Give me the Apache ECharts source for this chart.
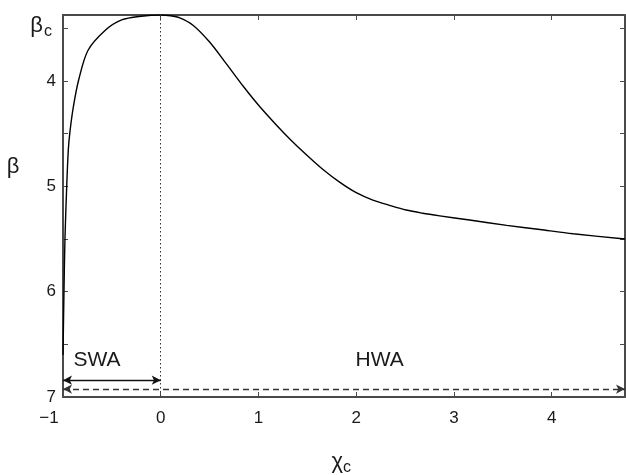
<!DOCTYPE html>
<html>
<head>
<meta charset="utf-8">
<script src="https://cdn.jsdelivr.net/npm/echarts@6/dist/echarts.min.js"></script>
<style>
  html, body { margin: 0; padding: 0; background: #fff; }
  #chart { width: 626px; height: 475px; }
</style>
</head>
<body>
<div id="chart"></div>
<script>
// Critical inverse temperature curve beta(chi_c)
const chiValues = [-1, -0.99, -0.98, -0.962, -0.946, -0.93, -0.895, -0.84, -0.745, -0.57, -0.4, -0.2, 0,
  0.1, 0.195, 0.33, 0.5, 0.674, 0.844, 1.01, 1.185, 1.32, 1.49, 1.66, 1.83, 2.0, 2.17, 2.34, 2.51, 2.68,
  2.855, 3.16, 3.54, 3.88, 4.22, 4.75];
const betaValues = [6.6, 6.0, 5.5, 5.0, 4.66, 4.49, 4.25, 3.99, 3.71, 3.52, 3.42, 3.385, 3.373,
  3.38, 3.40, 3.47, 3.63, 3.84, 4.05, 4.24, 4.42, 4.55, 4.70, 4.84, 4.96, 5.06, 5.13, 5.18, 5.225, 5.255,
  5.28, 5.32, 5.37, 5.41, 5.45, 5.50];

const betaC = 3.373;
const xTicks = { min: -1, max: 4.75, interval: 1 };
const yTickValues = [3.5, 4, 4.5, 5, 5.5, 6, 6.5, 7];
const yLabelValues = [4, 5, 6, 7];

// Regime annotations: strong (SWA) and hard (HWA) ranges
const swaRange = [-1, 0];
const swaArrowBeta = 6.84;
const hwaRange = [-1, 4.75];
const hwaArrowBeta = 6.925;
const regionLabels = [
  { text: 'SWA', chi: -0.652, beta: 6.65 },
  { text: 'HWA', chi: 2.24, beta: 6.65 }
];

const FONT = '"Liberation Sans", Arial, Helvetica, sans-serif';
const AXIS_COLOR = '#4a4a4a';
const TEXT_COLOR = '#1a1a1a';

const chart = echarts.init(document.getElementById('chart'));

const curve = chiValues.map((c, i) => [c, betaValues[i]]);

function xAxisCfg(pos, showLabels) {
  return {
    type: 'value',
    position: pos,
    min: xTicks.min,
    max: xTicks.max,
    interval: xTicks.interval,
    axisLine: { show: true, onZero: false, lineStyle: { color: AXIS_COLOR, width: 2 } },
    axisTick: { show: true, inside: true, length: 5, lineStyle: { color: AXIS_COLOR, width: 1 } },
    axisLabel: {
      show: showLabels,
      margin: 13,
      fontFamily: FONT,
      fontSize: 17,
      color: TEXT_COLOR,
      showMaxLabel: false,
      formatter: function (v) {
        if (v < 0) return '{m|\u2212' + Math.abs(v) + '}';
        return String(v);
      },
      rich: { m: { fontFamily: FONT, fontSize: 17, color: TEXT_COLOR, padding: [0, 28, 0, 0] } }
    },
    splitLine: { show: false }
  };
}

function yAxisCfg(pos, showLabels) {
  return {
    type: 'value',
    position: pos,
    inverse: true,
    min: betaC,
    max: 7,
    axisLine: { show: true, onZero: false, lineStyle: { color: AXIS_COLOR, width: 2 } },
    axisTick: { show: true, inside: true, length: 5, customValues: yTickValues,
      lineStyle: { color: AXIS_COLOR, width: 1 } },
    axisLabel: {
      show: showLabels,
      customValues: yLabelValues,
      margin: 7,
      fontFamily: FONT,
      fontSize: 17,
      color: TEXT_COLOR
    },
    splitLine: { show: false }
  };
}

const option = {
  animation: false,
  backgroundColor: '#ffffff',
  grid: { left: 63, top: 15, right: 1, bottom: 78, containLabel: false },
  xAxis: [xAxisCfg('bottom', true), xAxisCfg('top', false)],
  yAxis: [yAxisCfg('left', true), yAxisCfg('right', false)],
  series: [{
    type: 'line',
    xAxisIndex: 0,
    yAxisIndex: 0,
    data: curve,
    showSymbol: false,
    smooth: 0.3,
    lineStyle: { color: '#000', width: 1.4 },
    markLine: {
      silent: true,
      animation: false,
      symbol: ['arrow', 'arrow'],
      symbolSize: [7, 9],
      label: { show: false },
      data: [
        [{ xAxis: 0, yAxis: betaC, symbol: 'none', lineStyle: { type: [1.5, 2.5], color: '#333', width: 1 } },
         { xAxis: 0, yAxis: 7, symbol: 'none' }],
        [{ coord: [swaRange[0], swaArrowBeta], lineStyle: { type: 'solid', color: '#111', width: 1.3 } },
         { coord: [swaRange[1], swaArrowBeta] }],
        [{ coord: [hwaRange[0], hwaArrowBeta], lineStyle: { type: [6, 4], color: '#333', width: 1.4 } },
         { coord: [hwaRange[1], hwaArrowBeta] }]
      ]
    }
  }]
};

chart.setOption(option);

// Region names placed at data positions, plus the axis titles with subscripts
const regionGraphics = regionLabels.map(r => {
  const p = chart.convertToPixel({ xAxisIndex: 0, yAxisIndex: 0 }, [r.chi, r.beta]);
  return {
    type: 'text', x: p[0], y: p[1],
    style: { text: r.text, font: '21px ' + FONT, fill: TEXT_COLOR, align: 'center', verticalAlign: 'middle' }
  };
});
const topPx = chart.convertToPixel({ yAxisIndex: 0 }, betaC);

chart.setOption({
  graphic: regionGraphics.concat([
    { type: 'text', x: 43, y: topPx + 11,
      style: { text: '\u03b2', font: '22px ' + FONT, fill: TEXT_COLOR, align: 'right', verticalAlign: 'middle' } },
    { type: 'text', x: 44, y: topPx + 17,
      style: { text: 'c', font: '16px ' + FONT, fill: TEXT_COLOR, align: 'left', verticalAlign: 'middle' } },
    { type: 'text', x: 13, y: 167,
      style: { text: '\u03b2', font: '22px ' + FONT, fill: TEXT_COLOR, align: 'center', verticalAlign: 'middle' } },
    { type: 'text', x: 343, y: 462,
      style: { text: '\u03c7', font: '22px ' + FONT, fill: TEXT_COLOR, align: 'right', verticalAlign: 'middle' } },
    { type: 'text', x: 343, y: 468,
      style: { text: 'c', font: '16px ' + FONT, fill: TEXT_COLOR, align: 'left', verticalAlign: 'middle' } }
  ])
});
</script>
</body>
</html>
